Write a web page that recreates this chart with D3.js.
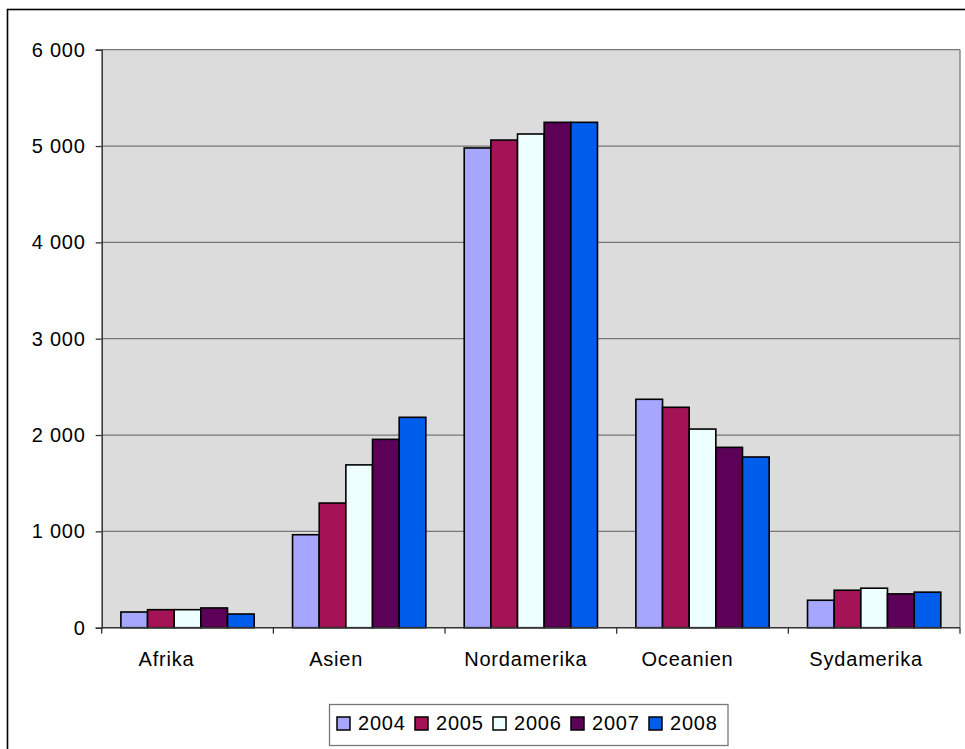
<!DOCTYPE html>
<html><head><meta charset="utf-8">
<script src="https://cdn.jsdelivr.net/npm/d3@7"></script>
<style>
html,body{margin:0;padding:0;background:#fff;overflow:hidden;}
text{font-family:"Liberation Sans",Arial,sans-serif;}
</style></head>
<body><svg id="c" width="965" height="749"></svg>
<script>
const categories = ["Afrika","Asien","Nordamerika","Oceanien","Sydamerika"];
const seriesNames = ["2004","2005","2006","2007","2008"];
const v2004 = [163, 965, 4980, 2371, 285];
const v2005 = [187, 1294, 5062, 2288, 389];
const v2006 = [187, 1690, 5125, 2062, 410];
const v2007 = [205, 1955, 5246, 1872, 351];
const v2008 = [142, 2184, 5246, 1772, 369];
const yTicks = [0,1000,2000,3000,4000,5000,6000];
const colors = ["#A6A6FF","#A31355","#EEFFFF","#5C0058","#005DEB"];
const seriesValues = [v2004,v2005,v2006,v2007,v2008];
const labelShift = [-21,-23,-5,-15,-8];

const svg = d3.select("#c");
const L = 101.7, R = 960, T = 49.7, B = 627.7;

svg.append("rect").attr("x",7.5).attr("y",9.5).attr("width",970).attr("height",760)
  .attr("fill","none").attr("stroke","#000").attr("stroke-width",1.6);

const x0 = d3.scaleBand().domain(categories).range([L,R]).paddingInner(0).paddingOuter(0);
const x1 = d3.scaleBand().domain(seriesNames).range([0,x0.bandwidth()]).paddingInner(0).paddingOuter(0.72);
const y = d3.scaleLinear().domain([0,6000]).range([B,T]);

svg.append("rect").attr("x",L).attr("y",T).attr("width",R-L).attr("height",B-T).attr("fill","#DCDCDC");

svg.append("g").selectAll("line").data(yTicks.filter(d=>d>0)).join("line")
  .attr("x1",L).attr("x2",R).attr("y1",d=>y(d)).attr("y2",d=>y(d))
  .attr("stroke","#777").attr("stroke-width",1.3);
svg.append("line").attr("x1",R).attr("x2",R).attr("y1",T).attr("y2",B).attr("stroke","#888").attr("stroke-width",1.5);

const g = svg.append("g");
categories.forEach((c,ci)=>{
  seriesNames.forEach((s,si)=>{
    const v = seriesValues[si][ci];
    g.append("rect").attr("x",x0(c)+x1(s)).attr("y",y(v)).attr("width",x1.bandwidth()).attr("height",y(0)-y(v))
      .attr("fill",colors[si]).attr("stroke","#000").attr("stroke-width",1.6);
  });
});

const yAxis = d3.axisLeft(y).tickValues(yTicks).tickSize(6).tickPadding(10)
  .tickFormat(d=>d3.format(",")(d).replace(/,/g," "));
const ya = svg.append("g").attr("transform",`translate(${L},0)`).call(yAxis);
ya.select(".domain").attr("stroke","#333").attr("stroke-width",1.5);
ya.selectAll(".tick line").attr("stroke","#333").attr("stroke-width",1.3);
ya.selectAll("text").attr("font-size",20).attr("fill","#000").attr("letter-spacing",0.8);

const xa = svg.append("g").attr("transform",`translate(0,${B})`);
xa.append("line").attr("x1",L).attr("x2",R).attr("y1",0).attr("y2",0).attr("stroke","#333").attr("stroke-width",1.5);
xa.selectAll("line.t").data(categories.map(c=>x0(c)).concat([R])).join("line").attr("class","t")
  .attr("x1",d=>d).attr("x2",d=>d).attr("y1",0).attr("y2",6).attr("stroke","#333").attr("stroke-width",1.3);
xa.selectAll("text").data(categories).join("text")
  .attr("x",(d,i)=>x0(d)+x0.bandwidth()/2+labelShift[i]).attr("y",38).attr("text-anchor","middle")
  .attr("font-size",20).attr("letter-spacing",0.8).attr("fill","#000").text(d=>d);

const lg = svg.append("g");
lg.append("rect").attr("x",329.5).attr("y",704.5).attr("width",398.5).attr("height",41)
  .attr("fill","#fff").attr("stroke","#777").attr("stroke-width",1.3);
seriesNames.forEach((s,i)=>{
  const lx = 337 + i*78;
  lg.append("rect").attr("x",lx).attr("y",717).attr("width",13).attr("height",13)
    .attr("fill",colors[i]).attr("stroke","#000").attr("stroke-width",1.5);
  lg.append("text").attr("x",lx+21).attr("y",730).attr("font-size",20).attr("letter-spacing",0.8)
    .attr("fill","#000").text(s);
});
</script></body></html>
